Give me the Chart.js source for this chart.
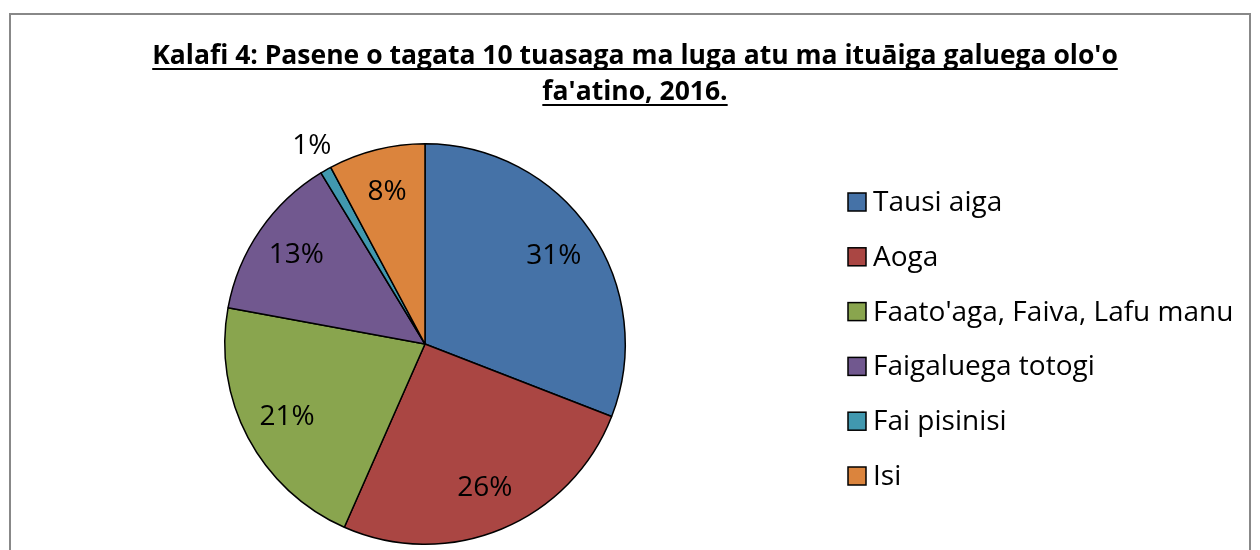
<!DOCTYPE html>
<html>
<head>
<meta charset="utf-8">
<script src="https://cdn.jsdelivr.net/npm/chart.js@4/dist/chart.umd.min.js"></script>
<style>
  body { margin: 0; background: #fff; }
</style>
</head>
<body>
<canvas id="chart" width="1260" height="550"></canvas>
<script>
const categories = ['Tausi aiga', 'Aoga', "Faato'aga, Faiva, Lafu manu", 'Faigaluega totogi', 'Fai pisinisi', 'Isi']
const shares = [30.9, 25.7, 21.3, 13.4, 0.9, 7.8]
const slice_colors = ['#4572A7', '#AA4643', '#89A54E', '#71588F', '#4198AF', '#DB843D']
const title_lines = ["Kalafi 4: Pasene o tagata 10 tuasaga ma luga atu ma ituāiga galuega olo'o", "fa'atino, 2016."]

const font_family = '"Open Sans", sans-serif'

// frame, title, slice labels and legend are drawn by hand to look like the Excel chart
const decor = {
    id: 'decor',
    beforeDraw(chart) {
        const ctx = chart.ctx
        ctx.save()
        ctx.strokeStyle = '#888888'
        ctx.lineWidth = 2
        ctx.beginPath()
        ctx.moveTo(10, 560)
        ctx.lineTo(10, 14)
        ctx.lineTo(1250, 14)
        ctx.lineTo(1250, 560)
        ctx.stroke()
        ctx.restore()
    },
    afterDraw(chart) {
        const ctx = chart.ctx
        ctx.save()

        // title
        ctx.fillStyle = '#000'
        ctx.strokeStyle = '#000'
        ctx.font = 'bold 26.5px ' + font_family
        ctx.textAlign = 'center'
        ctx.textBaseline = 'alphabetic'
        const base = [64, 100]
        title_lines.forEach((line, i) => {
            ctx.fillText(line, 635, base[i])
            const w = ctx.measureText(line).width
            ctx.lineWidth = 2
            ctx.beginPath()
            ctx.moveTo(635 - w / 2, base[i] + 5)
            ctx.lineTo(635 + w / 2, base[i] + 5)
            ctx.stroke()
        })

        // percentage labels
        const meta = chart.getDatasetMeta(0)
        ctx.font = '28px ' + font_family
        ctx.textBaseline = 'middle'
        meta.data.forEach((arc, i) => {
            const p = arc.getProps(['x', 'y', 'startAngle', 'endAngle', 'outerRadius'], true)
            const mid = (p.startAngle + p.endAngle) / 2
            const f = shares[i] < 3 ? 1.14 : 0.78
            const x = p.x + Math.cos(mid) * p.outerRadius * f
            const y = p.y + Math.sin(mid) * p.outerRadius * f
            ctx.fillText(Math.round(shares[i]) + '%', x, y)
        })

        // legend
        ctx.textAlign = 'left'
        ctx.textBaseline = 'alphabetic'
        categories.forEach((name, i) => {
            const y = 211 + i * 54.8
            ctx.fillStyle = slice_colors[i]
            ctx.fillRect(848, y - 18, 18, 18)
            ctx.lineWidth = 1.5
            ctx.strokeStyle = '#000'
            ctx.strokeRect(848, y - 18, 18, 18)
            ctx.fillStyle = '#000'
            ctx.fillText(name, 873, y)
        })
        ctx.restore()
    }
}

new Chart('chart', {
    type: 'pie',
    data: {
        labels: categories,
        datasets: [{
            data: shares,
            backgroundColor: slice_colors,
            borderColor: '#000',
            borderWidth: 1.5
        }]
    },
    options: {
        responsive: false,
        animation: false,
        layout: {
            padding: { left: 224, right: 634, top: 143, bottom: 5 }
        },
        plugins: {
            legend: { display: false },
            title: { display: false },
            tooltip: { enabled: false }
        }
    },
    plugins: [decor]
})
</script>
</body>
</html>
